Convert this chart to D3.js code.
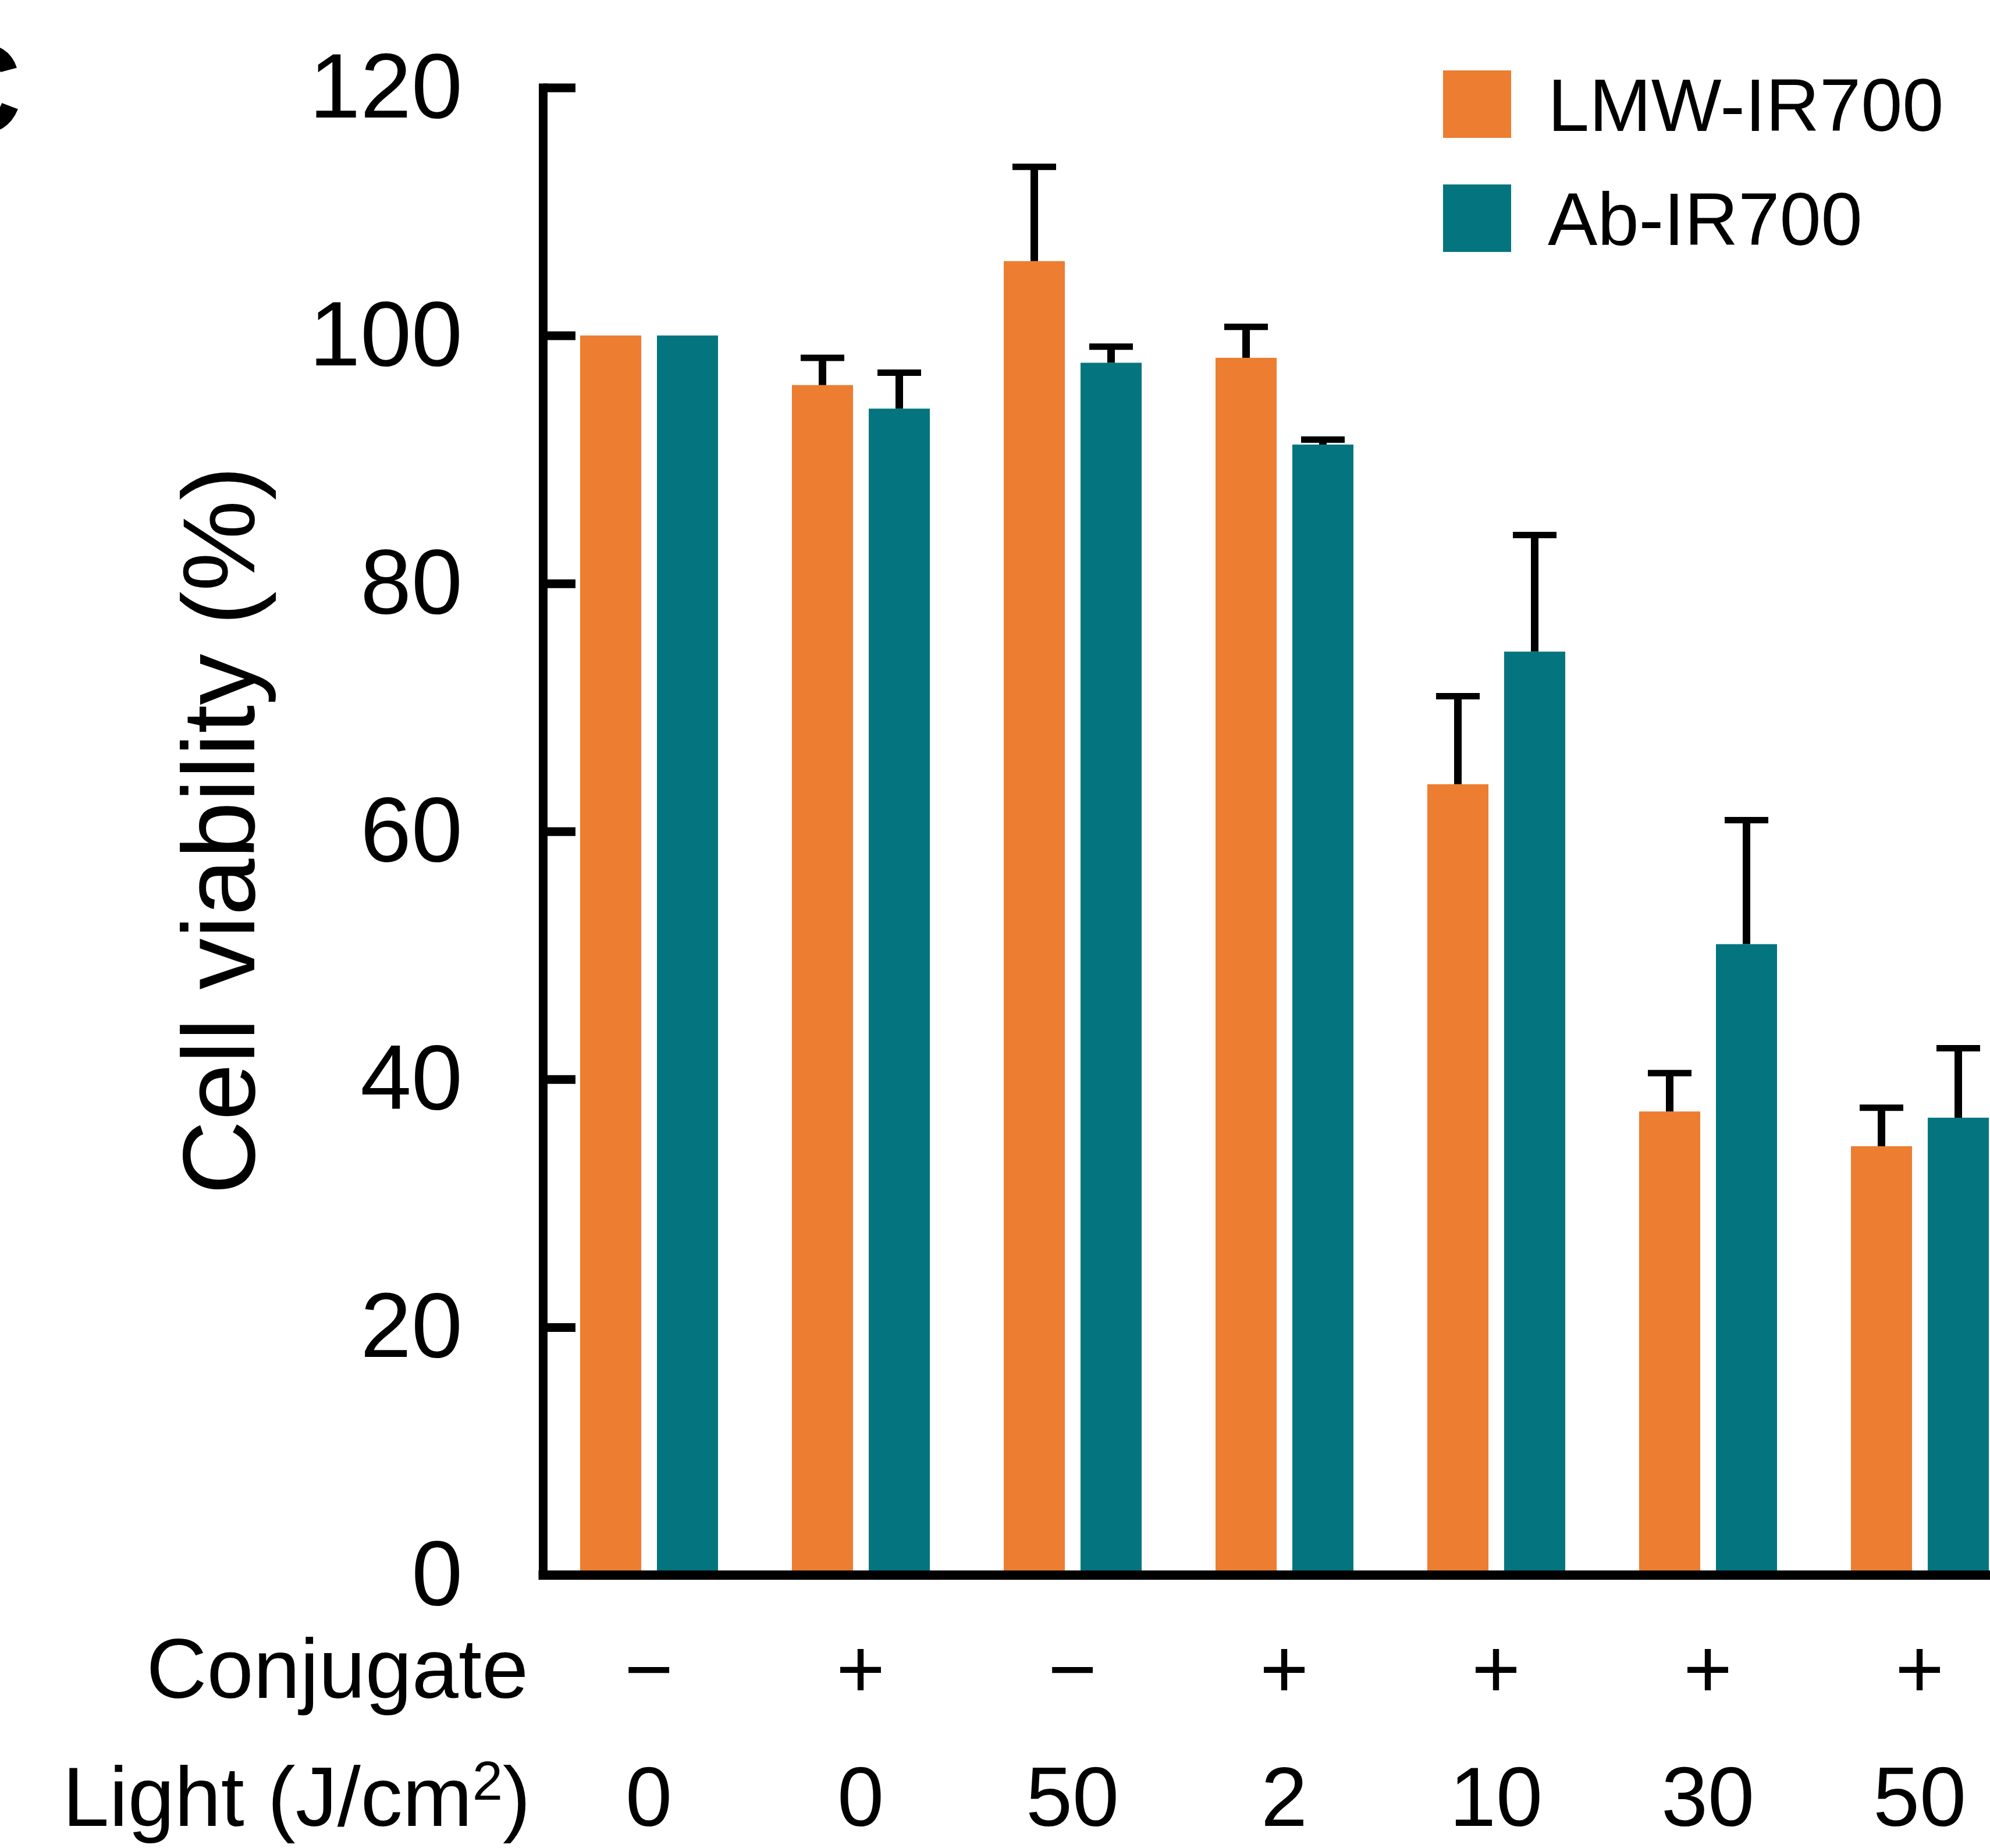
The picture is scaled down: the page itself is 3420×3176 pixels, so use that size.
<!DOCTYPE html>
<html><head><meta charset="utf-8">
<script src="https://cdn.jsdelivr.net/npm/d3@7"></script>
<style>
body{margin:0;background:#fff}
svg{display:block}
text{font-family:"Liberation Sans",Arial,Helvetica,sans-serif;fill:#000}
</style>
</head><body>
<svg id="chart" width="3420" height="3176"></svg>
<script>
// ---- data ----
const groupIdx = [0,1,2,3,4,5,6];
const conjugateLabels = ["\u2212","+","\u2212","+","+","+","+"];
const lightLabels = ["0","0","50","2","10","30","50"];
const seriesNames = ["LMW-IR700","Ab-IR700"];
const seriesColors = ["#ED7D31","#04757F"];
const lmwMean = [100, 96.0, 106.0, 98.2, 63.8, 37.4, 34.6];
const lmwErr  = [0,   2.2,  7.6,  2.5,  7.1,  3.1,  3.1];
const abMean  = [100, 94.1, 97.8, 91.2, 74.5, 50.9, 36.9];
const abErr   = [0,   2.9,  1.3,  0.4,  9.4,  10.0, 5.6];
const yTicks  = [0,20,40,60,80,100,120];

const svg = d3.select("#chart");
const W = 3420, H = 3176;

const y = d3.scaleLinear().domain([0,120]).range([2707,150.5]);
const x0 = d3.scaleBand().domain(groupIdx).range([933.5,3481.5]).padding(0);
const x1 = d3.scaleBand().domain(seriesNames).range([0,x0.bandwidth()]).paddingInner(0.2045).paddingOuter(0.481);
const color = d3.scaleOrdinal().domain(seriesNames).range(seriesColors);

const rows = groupIdx.map(i => ({
  i,
  vals: [
    {s: seriesNames[0], m: lmwMean[i], e: lmwErr[i]},
    {s: seriesNames[1], m: abMean[i], e: abErr[i]}
  ]
}));

// bars
const gBars = svg.append("g");
const grp = gBars.selectAll("g.grp").data(rows).join("g")
  .attr("transform", d => `translate(${x0(d.i)},0)`);
grp.selectAll("rect").data(d => d.vals).join("rect")
  .attr("x", d => x1(d.s))
  .attr("width", x1.bandwidth())
  .attr("y", d => y(d.m))
  .attr("height", d => y(0) - y(d.m))
  .attr("fill", d => color(d.s));

// error bars (upper only)
const eb = grp.selectAll("g.eb").data(d => d.vals.filter(v => v.e > 0)).join("g").attr("class","eb");
eb.append("line")
  .attr("x1", d => x1(d.s) + x1.bandwidth()/2)
  .attr("x2", d => x1(d.s) + x1.bandwidth()/2)
  .attr("y1", d => y(d.m))
  .attr("y2", d => y(d.m + d.e))
  .attr("stroke","#000").attr("stroke-width",13);
eb.append("line")
  .attr("x1", d => x1(d.s) + x1.bandwidth()/2 - 37.5)
  .attr("x2", d => x1(d.s) + x1.bandwidth()/2 + 37.5)
  .attr("y1", d => y(d.m + d.e))
  .attr("y2", d => y(d.m + d.e))
  .attr("stroke","#000").attr("stroke-width",11);

// y axis
const yAxis = d3.axisLeft(y).tickValues(yTicks).tickSizeInner(-56).tickSizeOuter(0).tickPadding(138);
const gy = svg.append("g").attr("transform","translate(933,0)").call(yAxis);
gy.select(".domain").attr("stroke","#000").attr("stroke-width",15).attr("stroke-linecap","square");
gy.selectAll(".tick line").attr("stroke","#000").attr("stroke-width",15);
gy.selectAll(".tick text").attr("font-size",158).attr("fill","#000")
  .style("font-family",'"Liberation Sans",Arial,sans-serif');

// x axis line
const gx = svg.append("g").attr("transform","translate(-0.5,2706.5)")
  .call(d3.axisBottom(x0).tickSize(0).tickFormat(""));
gx.selectAll(".tick").remove();
gx.select(".domain").attr("stroke","#000").attr("stroke-width",16).attr("stroke-linecap","square");

// conjugate row
const gc = svg.append("g").attr("transform","translate(-0.5,2706)")
  .call(d3.axisBottom(x0).tickSize(0).tickPadding(110).tickFormat(i => conjugateLabels[i]));
gc.select(".domain").remove();
gc.selectAll(".tick text").attr("font-size",144).attr("fill","#000")
  .style("font-family",'"Liberation Sans",Arial,sans-serif');

// light row
const gl = svg.append("g").attr("transform","translate(-0.5,2706)")
  .call(d3.axisBottom(x0).tickSize(0).tickPadding(330).tickFormat(i => lightLabels[i]));
gl.select(".domain").remove();
gl.selectAll(".tick text").attr("font-size",144).attr("fill","#000")
  .style("font-family",'"Liberation Sans",Arial,sans-serif');

// row titles
svg.append("text").attr("x",908).attr("y",2918).attr("text-anchor","end")
  .attr("font-size",144).text("Conjugate");
const lt = svg.append("text").attr("x",912).attr("y",3138).attr("text-anchor","end").attr("font-size",144);
lt.append("tspan").text("Light (J/cm");
lt.append("tspan").attr("font-size",94).attr("dy",-45).text("2");
lt.append("tspan").attr("font-size",144).attr("dy",45).text(")");

// y title
svg.append("text").attr("transform","translate(437,1427) rotate(-90)")
  .attr("text-anchor","middle").attr("font-size",176).text("Cell viability (%)");

// panel letter (cut off at left edge)
svg.append("text").attr("x",-122).attr("y",229).attr("font-size",220)
  .attr("font-weight","bold").text("C");

// legend
const lg = svg.append("g").selectAll("g").data(seriesNames).join("g")
  .attr("transform",(d,i) => `translate(2480,${121 + i*196})`);
lg.append("rect").attr("width",117).attr("height",116).attr("fill", d => color(d));
lg.append("text").attr("x",180).attr("y",104).attr("font-size",128).text(d => d);
</script>
</body></html>
